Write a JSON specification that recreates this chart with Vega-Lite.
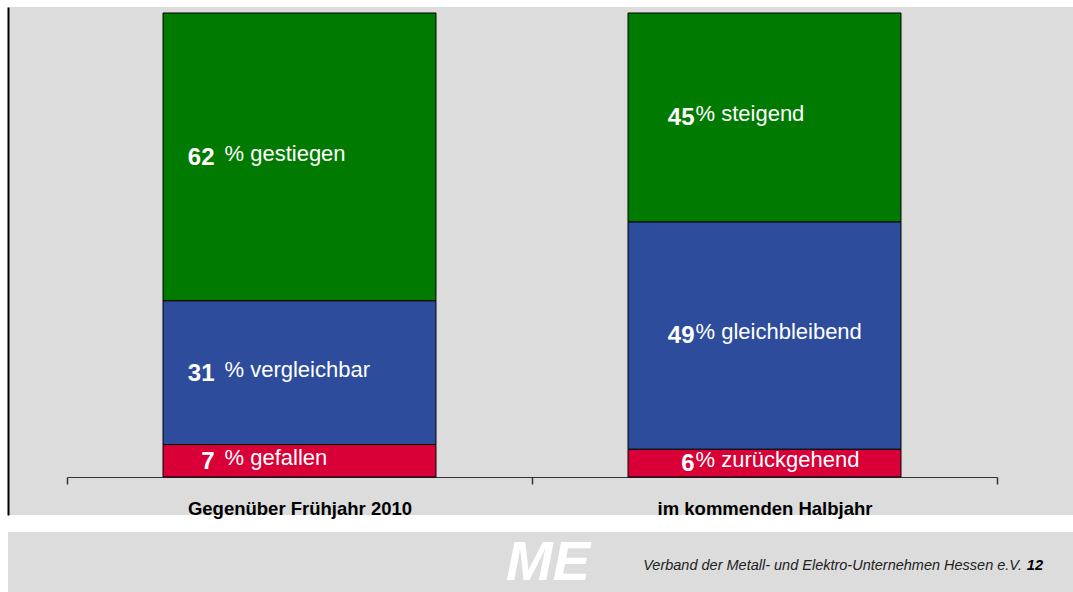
{
  "$schema": "https://vega.github.io/schema/vega-lite/v6.json",
  "background": "white",
  "padding": {"left": 8, "top": 7, "right": 0, "bottom": 0},
  "autosize": {"type": "pad"},
  "bounds": "flush",
  "spacing": 17,
  "config": {"font": "Liberation Sans", "view": {"stroke": null}},
  "vconcat": [
    {
      "width": 1065,
      "height": 508,
      "view": {"fill": "#dcdcdc", "stroke": null},
      "data": {
        "values": [
          {"q": "Gegenüber Frühjahr 2010", "level": "unten", "rank": 1, "pct": 7, "label": "% gefallen"},
          {"q": "Gegenüber Frühjahr 2010", "level": "mitte", "rank": 2, "pct": 31, "label": "% vergleichbar"},
          {"q": "Gegenüber Frühjahr 2010", "level": "oben", "rank": 3, "pct": 62, "label": "% gestiegen"},
          {"q": "im kommenden Halbjahr", "level": "unten", "rank": 1, "pct": 6, "label": "% zurückgehend"},
          {"q": "im kommenden Halbjahr", "level": "mitte", "rank": 2, "pct": 49, "label": "% gleichbleibend"},
          {"q": "im kommenden Halbjahr", "level": "oben", "rank": 3, "pct": 45, "label": "% steigend"}
        ]
      },
      "encoding": {
        "x": {
          "field": "q",
          "type": "nominal",
          "sort": ["Gegenüber Frühjahr 2010", "im kommenden Halbjahr"],
          "scale": {"range": [59, 989], "paddingInner": 0, "paddingOuter": 0},
          "axis": {
            "title": null,
            "orient": "bottom",
            "offset": -38,
            "grid": false,
            "domainColor": "#333333",
            "domainWidth": 1.2,
            "tickColor": "#333333",
            "tickSize": 7,
            "tickWidth": 1.5,
            "tickBand": "extent",
            "labelAngle": 0,
            "labelLimit": 0,
            "labelFont": "Liberation Sans",
            "labelFontSize": 18.5,
            "labelFontWeight": "bold",
            "labelColor": "black",
            "labelPadding": 30,
            "labelBaseline": "alphabetic"
          }
        }
      },
      "layer": [
        {
          "mark": {"type": "bar", "width": {"band": 0.587}, "stroke": "black", "strokeWidth": 1},
          "encoding": {
            "y": {
              "field": "pct",
              "type": "quantitative",
              "stack": "zero",
              "scale": {"domain": [-8.19, 101.29], "nice": false, "zero": false},
              "axis": {"title": null, "grid": false, "ticks": false, "labels": false, "domain": true, "domainColor": "black", "domainWidth": 2}
            },
            "color": {
              "field": "level",
              "type": "nominal",
              "scale": {"domain": ["unten", "mitte", "oben"], "range": ["#d80036", "#2d4d9c", "#007a00"]},
              "legend": null
            },
            "order": {"field": "rank", "type": "quantitative"}
          }
        },
        {
          "mark": {
            "type": "text",
            "align": "right",
            "baseline": "alphabetic",
            "dx": {"expr": "datum.q == 'im kommenden Halbjahr' ? -70 : -85"},
            "dy": 8,
            "fontSize": 24,
            "fontWeight": "bold",
            "color": "white"
          },
          "encoding": {
            "y": {"field": "pct", "type": "quantitative", "stack": "zero", "bandPosition": 0.5},
            "detail": {"field": "level", "type": "nominal"},
            "order": {"field": "rank", "type": "quantitative"},
            "text": {"field": "pct", "type": "quantitative"}
          }
        },
        {
          "mark": {
            "type": "text",
            "align": "left",
            "baseline": "alphabetic",
            "dx": {"expr": "datum.q == 'im kommenden Halbjahr' ? -69 : -75"},
            "dy": 4,
            "fontSize": 22,
            "color": "white"
          },
          "encoding": {
            "y": {"field": "pct", "type": "quantitative", "stack": "zero", "bandPosition": 0.5},
            "detail": {"field": "level", "type": "nominal"},
            "order": {"field": "rank", "type": "quantitative"},
            "text": {"field": "label", "type": "nominal"}
          }
        }
      ]
    },
    {
      "width": 1065,
      "height": 60,
      "view": {"fill": "#dcdcdc", "stroke": null},
      "data": {
        "values": [
          {"part": "logo", "t": "ME"},
          {"part": "org", "t": "Verband der Metall- und Elektro-Unternehmen Hessen e.V."},
          {"part": "page", "t": "12"}
        ]
      },
      "layer": [
        {
          "transform": [{"filter": "datum.part == 'logo'"}],
          "mark": {"type": "text", "x": 540, "y": 48, "align": "center", "baseline": "alphabetic", "fontSize": 56, "fontWeight": "bold", "fontStyle": "italic", "color": "white"},
          "encoding": {"text": {"field": "t", "type": "nominal"}}
        },
        {
          "transform": [{"filter": "datum.part == 'org'"}],
          "mark": {"type": "text", "x": 1014, "y": 38, "align": "right", "baseline": "alphabetic", "fontSize": 14.5, "fontStyle": "italic", "color": "#222222"},
          "encoding": {"text": {"field": "t", "type": "nominal"}}
        },
        {
          "transform": [{"filter": "datum.part == 'page'"}],
          "mark": {"type": "text", "x": 1035, "y": 38, "align": "right", "baseline": "alphabetic", "fontSize": 14.5, "fontWeight": "bold", "fontStyle": "italic", "color": "black"},
          "encoding": {"text": {"field": "t", "type": "nominal"}}
        }
      ]
    }
  ]
}
